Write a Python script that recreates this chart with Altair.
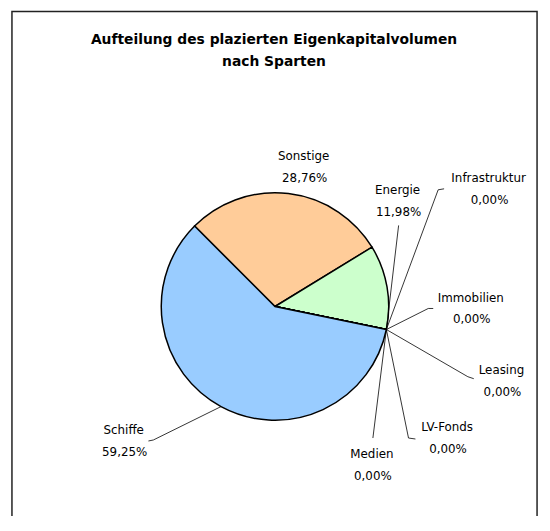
import math
import altair as alt
import pandas as pd

# ---- data ----
categories = ["Sonstige", "Energie", "Infrastruktur", "Immobilien", "Leasing", "LV-Fonds", "Medien", "Schiffe"]
values = [28.76, 11.98, 0.0, 0.0, 0.0, 0.0, 0.0, 59.25]
pct_text = ["28,76%", "11,98%", "0,00%", "0,00%", "0,00%", "0,00%", "0,00%", "59,25%"]
colors = ["#FFCC99", "#CCFFCC", "#FFFFFF", "#FFFFFF", "#FFFFFF", "#FFFFFF", "#FFFFFF", "#99CCFF"]
title_lines = ["Aufteilung des plazierten Eigenkapitalvolumen", "nach Sparten"]

# ---- layout (page pixels) ----
OFF = 8
W, H = 540, 508
CX, CY, R = 278 - OFF, 307 - OFF, 115
START_DEG = 315.0
label_pos = {  # centre of the name line
    "Sonstige": (307, 155), "Energie": (402, 189), "Infrastruktur": (494, 177),
    "Immobilien": (476, 298), "Leasing": (507, 371), "LV-Fonds": (452, 429),
    "Medien": (376, 456), "Schiffe": (125, 432),
}
leader_pts = {
    "Energie": [(403, 225)],
    "Infrastruktur": [(449, 188), (443, 189)],
    "Immobilien": [(438, 309), (433, 309)],
    "Leasing": [(479, 380), (473, 378)],
    "LV-Fonds": [(420, 441), (413, 440)],
    "Medien": [(377, 440)],
    "Schiffe": [(150, 443), (155, 442)],
}
LINE_GAP = 22

total = sum(values)
df = pd.DataFrame({"cat": categories, "value": values, "idx": list(range(len(categories)))})

start = math.radians(START_DEG)
pie = alt.Chart(df).mark_arc(outerRadius=R, stroke="black", strokeWidth=1.5).encode(
    theta=alt.Theta("value:Q", stack=True, scale=alt.Scale(range=[start, start + 2 * math.pi])),
    color=alt.Color("cat:N", scale=alt.Scale(domain=categories, range=colors), legend=None),
    order=alt.Order("idx:Q"),
    x=alt.value(CX), y=alt.value(CY),
)

# anchor angles on the pie edge derived from the data
cum = 0.0
anchor = {}
for c, v in zip(categories, values):
    a0 = START_DEG + cum / total * 360
    a1 = START_DEG + (cum + v) / total * 360
    anchor[c] = a1 if c == "Energie" else (a0 + a1) / 2
    cum += v

rows = []
for c, pts in leader_pts.items():
    a = math.radians(anchor[c])
    ex, ey = CX + R * math.sin(a), CY - R * math.cos(a)
    seq = [(x - OFF, y - OFF) for x, y in pts] + [(ex, ey)]
    for k, (x, y) in enumerate(seq):
        rows.append({"seg": c, "ord": k, "x": x, "y": y})
lines_df = pd.DataFrame(rows)

leaders = alt.Chart(lines_df).mark_line(color="black", strokeWidth=0.8).encode(
    x=alt.X("x:Q", scale=None, axis=None),
    y=alt.Y("y:Q", scale=None, axis=None),
    detail="seg:N",
    order="ord:Q",
)

lab_rows = []
for c, p in zip(categories, pct_text):
    lx, ly = label_pos[c]
    lab_rows.append({"t": c, "x": lx - OFF, "y": ly - OFF})
    lab_rows.append({"t": p, "x": lx - OFF + 1, "y": ly - OFF + LINE_GAP})
lab_df = pd.DataFrame(lab_rows)

labels = alt.Chart(lab_df).mark_text(
    font="DejaVu Sans", fontSize=12, color="black", align="center", baseline="middle"
).encode(
    x=alt.X("x:Q", scale=None, axis=None),
    y=alt.Y("y:Q", scale=None, axis=None),
    text="t:N",
)

title_df = pd.DataFrame({"t": title_lines, "x": [277 - OFF, 277 - OFF], "y": [38 - OFF, 60 - OFF]})
title = alt.Chart(title_df).mark_text(
    font="DejaVu Sans", fontSize=14, fontWeight="bold", color="black", align="center", baseline="middle"
).encode(
    x=alt.X("x:Q", scale=None, axis=None),
    y=alt.Y("y:Q", scale=None, axis=None),
    text="t:N",
)

frame = alt.Chart(alt.Data(values=[{}])).mark_rect(
    fill=None, stroke="#222222", strokeWidth=1.5
).encode(
    x=alt.value(12 - OFF), x2=alt.value(543 - OFF),
    y=alt.value(0.75), y2=alt.value(H + 40),
)

chart = alt.layer(frame, pie, leaders, labels, title).properties(
    width=W, height=H, padding=0, autosize=alt.AutoSizeParams(type="none"), background="white"
).configure_view(stroke=None)

chart.save("out.html", embed_options={"renderer": "svg", "actions": False})
